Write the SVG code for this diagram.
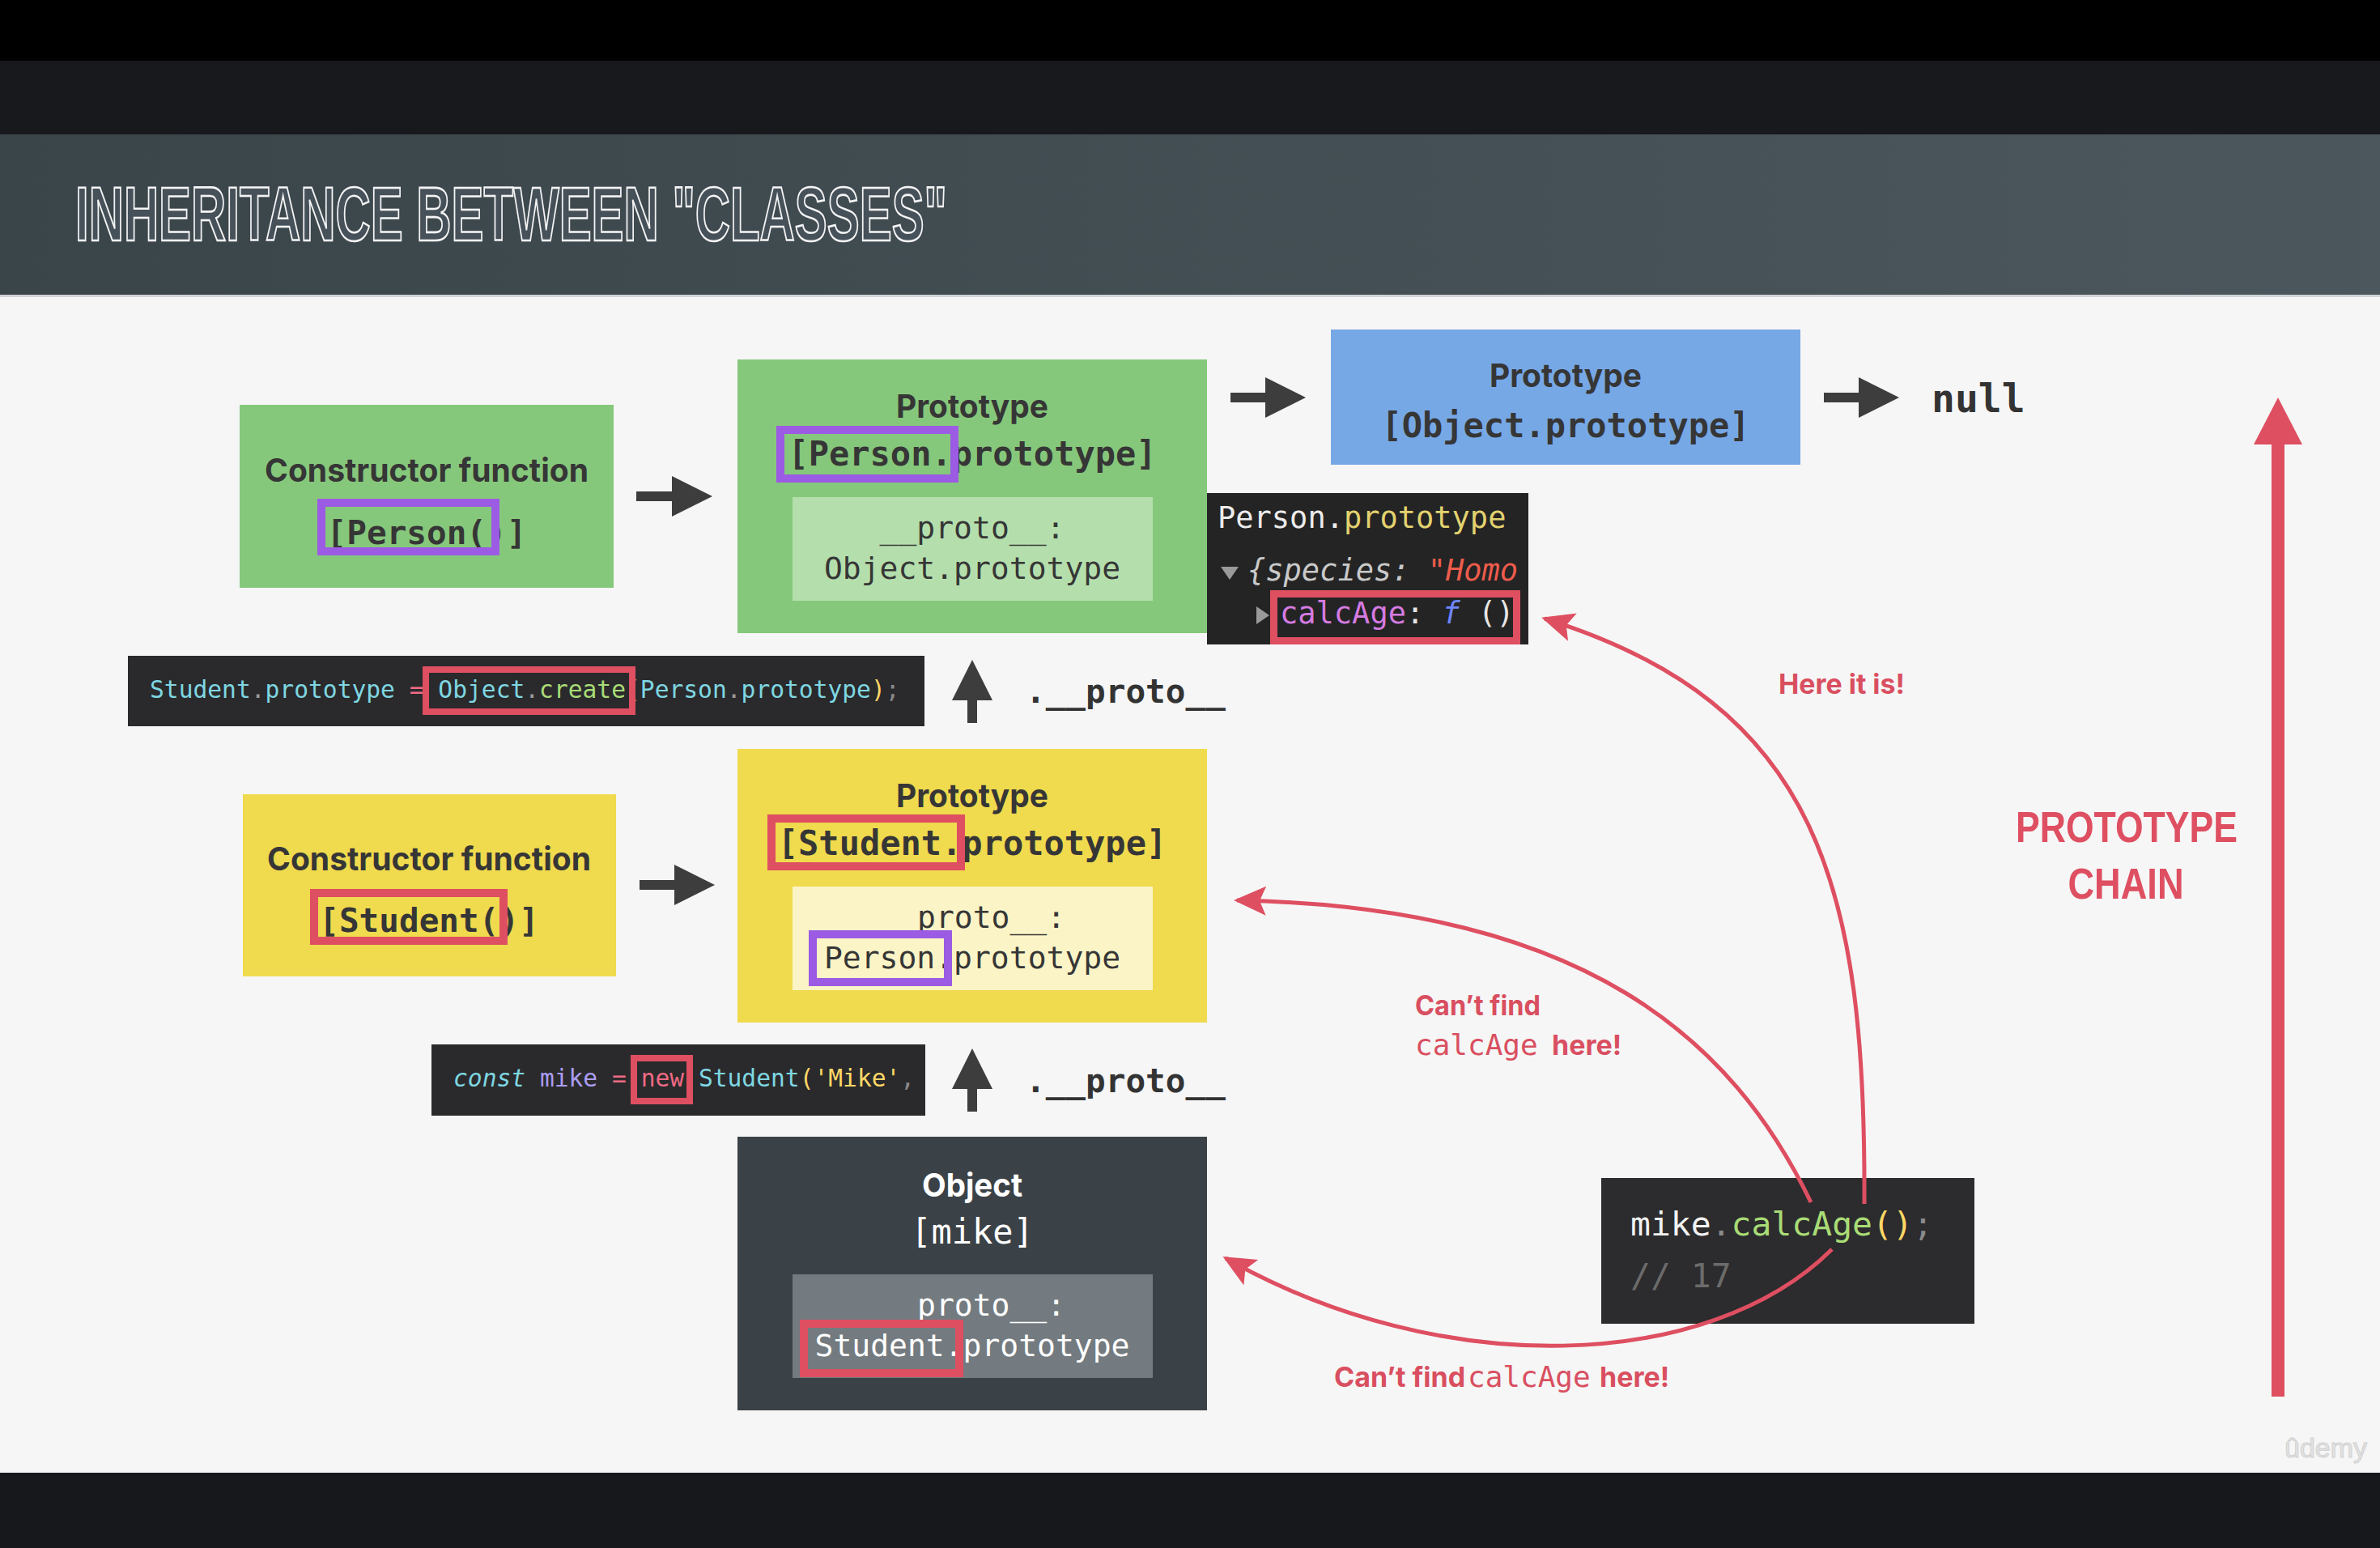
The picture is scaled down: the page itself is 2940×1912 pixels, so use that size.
<svg xmlns="http://www.w3.org/2000/svg" width="2940" height="1912" viewBox="0 0 2940 1912">
<defs>
<linearGradient id="hdr" x1="0" y1="0" x2="1" y2="0">
<stop offset="0" stop-color="#3a454a"/>
<stop offset="1" stop-color="#4c575d"/>
</linearGradient>
<marker id="dark" markerUnits="userSpaceOnUse" markerWidth="52" markerHeight="52" refX="2" refY="25" orient="auto">
<path d="M0,0 L50,25 L0,50 Z" fill="#3d3d3d"/>
</marker>
<marker id="red" markerUnits="userSpaceOnUse" markerWidth="44" markerHeight="40" refX="36" refY="18" orient="auto">
<path d="M0,0 L40,18 L0,36 L8,18 Z" fill="#de4f61"/>
</marker>
<style>
.sans{font-family:Inter,"Liberation Sans",sans-serif;font-weight:700;}
.mono{font-family:"DejaVu Sans Mono","Liberation Mono",monospace;}
.monob{font-family:"DejaVu Sans Mono","Liberation Mono",monospace;font-weight:700;}
.dk{fill:#363636;}
.hl{fill:none;stroke-width:10;}
.purple{stroke:#9b5be3;}
.redb{stroke:#de4f61;}
.conn{fill:none;stroke:#3d3d3d;stroke-width:12;}
.rc{fill:none;stroke:#de4f61;stroke-width:5;}
.lbl{fill:#d94f60;font-family:Inter,"Liberation Sans",sans-serif;font-weight:700;font-size:34px;}
</style>
</defs>

<!-- background -->
<rect x="0" y="0" width="2940" height="1912" fill="#f6f6f6"/>
<rect x="0" y="0" width="2940" height="75" fill="#000000"/>
<rect x="0" y="75" width="2940" height="92" fill="#18191d"/>
<rect x="0" y="166" width="2940" height="199" fill="url(#hdr)"/>
<rect x="0" y="364" width="2940" height="3" fill="#cfd4d7"/>
<rect x="0" y="1819" width="2940" height="93" fill="#17181c"/>
<text x="93" y="297" font-family="'Liberation Sans',sans-serif" font-size="94" font-weight="700" fill="#46515a" stroke="#f4f4f4" stroke-width="2.6" textLength="1077" lengthAdjust="spacingAndGlyphs">INHERITANCE BETWEEN "CLASSES"</text>

<!-- nodes -->
<g id="person-constructor">
<rect x="296" y="500" width="462" height="226" fill="#86c87b"/>
<text class="sans dk" x="527" y="595" font-size="40" text-anchor="middle" textLength="400" lengthAdjust="spacingAndGlyphs">Constructor function</text>
<text class="monob dk" x="527" y="672" font-size="41" text-anchor="middle">[Person()]</text>
<rect class="hl purple" x="397" y="621" width="215" height="60"/>
</g>

<g id="person-prototype">
<rect x="911" y="444" width="580" height="338" fill="#86c87b"/>
<text class="sans dk" x="1201" y="516" font-size="40" text-anchor="middle" textLength="188" lengthAdjust="spacingAndGlyphs">Prototype</text>
<text class="monob dk" x="1201" y="575" font-size="42" text-anchor="middle">[Person.prototype]</text>
<rect class="hl purple" x="964" y="531" width="215" height="60"/>
<rect x="979" y="614" width="445" height="128" fill="#b4dfac"/>
<text class="mono dk" x="1201" y="665" font-size="38" text-anchor="middle">__proto__:</text>
<text class="mono dk" x="1201" y="715" font-size="38" text-anchor="middle">Object.prototype</text>
</g>

<g id="object-prototype">
<rect x="1644" y="407" width="580" height="167" fill="#77a8e6"/>
<text class="sans dk" x="1934" y="478" font-size="40" text-anchor="middle" textLength="188" lengthAdjust="spacingAndGlyphs">Prototype</text>
<text class="monob dk" x="1934" y="540" font-size="42" text-anchor="middle">[Object.prototype]</text>
</g>

<g id="null">
<text class="monob" x="2386" y="509" font-size="48" fill="#333333">null</text>
</g>

<g id="console-person-prototype">
<rect x="1491" y="609" width="397" height="187" fill="#242424"/>
<text class="mono" x="1504" y="652" font-size="37"><tspan fill="#ececec">Person.</tspan><tspan fill="#e3d26f">prototype</tspan></text>
<path d="M1508,700 L1530,700 L1519,716 Z" fill="#9a9a9a"/>
<text class="mono" x="1541" y="717" font-size="37" font-style="italic"><tspan fill="#c9c9c9">{species: </tspan><tspan fill="#ee5c4c">"Homo</tspan></text>
<path d="M1552,749 L1568,760 L1552,771 Z" fill="#9a9a9a"/>
<text class="mono" x="1581" y="770" font-size="37"><tspan fill="#d67be2">calcAge</tspan><tspan fill="#e6e6e6">: </tspan><tspan fill="#6d86ff" font-style="italic">f</tspan><tspan fill="#e6e6e6"> ()</tspan></text>
<rect x="1573.5" y="733.5" width="300" height="58" fill="none" stroke="#de4f61" stroke-width="9"/>
</g>

<g id="code-object-create">
<rect x="158" y="810" width="984" height="87" fill="#2a2a2c"/>
<text class="mono" x="185" y="862" font-size="29.6"><tspan fill="#7fd7e2">Student</tspan><tspan fill="#9a9a9a">.</tspan><tspan fill="#7fd7e2">prototype</tspan><tspan fill="#f06a84"> = </tspan><tspan fill="#7fd7e2">Object</tspan><tspan fill="#9a9a9a">.</tspan><tspan fill="#a9dc76">create</tspan><tspan fill="#ffd866">(</tspan><tspan fill="#7fd7e2">Person</tspan><tspan fill="#9a9a9a">.</tspan><tspan fill="#7fd7e2">prototype</tspan><tspan fill="#ffd866">)</tspan><tspan fill="#8a8a8a">;</tspan></text>
<rect x="526" y="827" width="255" height="52" fill="none" stroke="#de4f61" stroke-width="8"/>
</g>

<g id="proto-label-1">
<text class="monob" x="1267" y="868" font-size="41" fill="#333333">.__proto__</text>
</g>

<g id="student-constructor">
<rect x="300" y="981" width="461" height="225" fill="#f0da4e"/>
<text class="sans dk" x="530" y="1075" font-size="40" text-anchor="middle" textLength="400" lengthAdjust="spacingAndGlyphs">Constructor function</text>
<text class="monob dk" x="530" y="1151" font-size="41" text-anchor="middle">[Student()]</text>
<rect class="hl redb" x="388" y="1103" width="234" height="59"/>
</g>

<g id="student-prototype">
<rect x="911" y="925" width="580" height="338" fill="#f0da4e"/>
<text class="sans dk" x="1201" y="997" font-size="40" text-anchor="middle" textLength="188" lengthAdjust="spacingAndGlyphs">Prototype</text>
<text class="monob dk" x="1201" y="1056" font-size="42" text-anchor="middle">[Student.prototype]</text>
<rect class="hl redb" x="953" y="1011" width="234" height="59"/>
<rect x="979" y="1095" width="445" height="128" fill="#fbf4c6"/>
<text class="mono dk" x="1133" y="1146" font-size="38">proto__:</text>
<text class="mono dk" x="1201" y="1196" font-size="38" text-anchor="middle">Person.prototype</text>
<rect class="hl purple" x="1004" y="1154" width="167" height="59"/>
</g>

<g id="code-new-student">
<rect x="533" y="1290" width="610" height="88" fill="#2a2a2c"/>
<text class="mono" x="560" y="1342" font-size="29.6"><tspan fill="#7fd7e2" font-style="italic">const</tspan><tspan> </tspan><tspan fill="#ab9df2">mike</tspan><tspan fill="#f06a84"> = new </tspan><tspan fill="#7fd7e2">Student</tspan><tspan fill="#ffd866">('Mike'</tspan><tspan fill="#8a8a8a">,</tspan></text>
<rect x="783" y="1307" width="69" height="53" fill="none" stroke="#de4f61" stroke-width="8"/>
</g>

<g id="proto-label-2">
<text class="monob" x="1267" y="1349" font-size="41" fill="#333333">.__proto__</text>
</g>

<g id="object-mike">
<rect x="911" y="1404" width="580" height="338" fill="#3b4247"/>
<text class="sans" x="1201" y="1478" font-size="40" fill="#ffffff" text-anchor="middle" textLength="124" lengthAdjust="spacingAndGlyphs">Object</text>
<text class="mono" x="1201" y="1536" font-size="42" fill="#ffffff" text-anchor="middle">[mike]</text>
<rect x="979" y="1574" width="445" height="128" fill="#737b80"/>
<text class="mono" x="1133" y="1625" font-size="38" fill="#ffffff">proto__:</text>
<text class="mono" x="1201" y="1675" font-size="38" fill="#ffffff" text-anchor="middle">Student.prototype</text>
<rect class="hl redb" x="993" y="1635" width="192" height="61"/>
</g>

<g id="code-mike-calcage">
<rect x="1978" y="1455" width="461" height="180" fill="#2c2b2d"/>
<text class="mono" x="2014" y="1526" font-size="41.4"><tspan fill="#f2f2f2">mike</tspan><tspan fill="#8a8a8a">.</tspan><tspan fill="#a9dc76">calcAge</tspan><tspan fill="#ffd866">()</tspan><tspan fill="#8a8a8a">;</tspan></text>
<text class="mono" x="2014" y="1590" font-size="41.4" fill="#6b6b6b">// 17</text>
</g>

<g id="labels">
<text class="lbl" x="2197" y="857" textLength="156" lengthAdjust="spacingAndGlyphs">Here it is!</text>
<text class="lbl" x="1748" y="1254" textLength="155" lengthAdjust="spacingAndGlyphs">Can’t find</text>
<text class="lbl" x="1748" y="1303"><tspan class="mono" font-size="36" font-weight="400">calcAge</tspan><tspan x="1909"> here!</tspan></text>
<text class="lbl" x="1648" y="1713"><tspan>Can’t find </tspan><tspan class="mono" x="1813" font-size="36" font-weight="400">calcAge</tspan><tspan x="1968"> here!</tspan></text>
<text x="2627" y="1040" fill="#de4f61" font-family="'Liberation Sans',sans-serif" font-weight="700" font-size="53" text-anchor="middle" textLength="274" lengthAdjust="spacingAndGlyphs">PROTOTYPE</text>
<text x="2626" y="1110" fill="#de4f61" font-family="'Liberation Sans',sans-serif" font-weight="700" font-size="53" text-anchor="middle" textLength="143" lengthAdjust="spacingAndGlyphs">CHAIN</text>
<text x="2822" y="1800" fill="#e4e4e4" stroke="#d0d0d0" stroke-width="1" font-family="'Liberation Sans',sans-serif" font-size="34">ûdemy</text>
</g>

<!-- connectors -->
<g id="connectors">
<line class="conn" x1="786" y1="613" x2="832" y2="613" marker-end="url(#dark)"/>
<line class="conn" x1="790" y1="1093" x2="835" y2="1093" marker-end="url(#dark)"/>
<line class="conn" x1="1520" y1="491" x2="1565" y2="491" marker-end="url(#dark)"/>
<line class="conn" x1="2253" y1="491" x2="2298" y2="491" marker-end="url(#dark)"/>
<line class="conn" x1="1201" y1="893" x2="1201" y2="863" marker-end="url(#dark)"/>
<line class="conn" x1="1201" y1="1373" x2="1201" y2="1343" marker-end="url(#dark)"/>
<path class="rc" d="M2303,1487 C2305,1100 2250,870 1908,764" marker-end="url(#red)"/>
<path class="rc" d="M2237,1485 C2140,1285 1960,1120 1528,1112" marker-end="url(#red)"/>
<path class="rc" d="M2263,1543 C2110,1695 1780,1705 1514,1554" marker-end="url(#red)"/>
<line x1="2814" y1="1725" x2="2814" y2="545" stroke="#de4f61" stroke-width="16"/>
<path d="M2784,549 L2844,549 L2814,491 Z" fill="#de4f61"/>
</g>
</svg>
